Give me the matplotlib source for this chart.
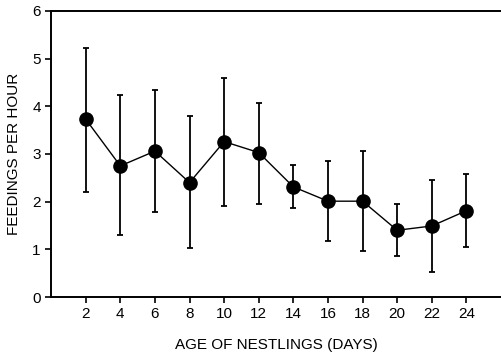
import matplotlib
matplotlib.use("Agg")
from matplotlib import pyplot as plt

plt.rcParams['font.family'] = ['Liberation Sans', 'DejaVu Sans']

# data
age = [2, 4, 6, 8, 10, 12, 14, 16, 18, 20, 22, 24]
feedings = [3.73, 2.75, 3.06, 2.40, 3.26, 3.03, 2.31, 2.01, 2.01, 1.40, 1.49, 1.81]
upper = [5.23, 4.23, 4.34, 3.79, 4.60, 4.07, 2.76, 2.85, 3.07, 1.96, 2.45, 2.57]
lower = [2.21, 1.30, 1.79, 1.02, 1.91, 1.96, 1.86, 1.17, 0.96, 0.86, 0.53, 1.05]

err_low = [f - l for f, l in zip(feedings, lower)]
err_high = [u - f for f, u in zip(feedings, upper)]

fig = plt.figure(figsize=(5.01, 3.54), dpi=100)
ax = fig.add_axes([0.102, 0.161, 0.898, 0.808])

ax.errorbar(age, feedings, yerr=[err_low, err_high], fmt='-o', color='black',
            markersize=9.5, linewidth=1.0, elinewidth=1.3, capsize=2, capthick=1.3)

ax.set_xlim(0, 26)
ax.set_ylim(0, 6)
ax.set_xticks(age)
ax.set_yticks(range(0, 7))
ax.tick_params(direction='out', length=4, width=1.2, labelsize=11, colors='black')
ax.spines['right'].set_visible(False)
for s in ['left', 'bottom', 'top']:
    ax.spines[s].set_linewidth(1.4)

ax.set_xlabel("AGE OF NESTLINGS (DAYS)", fontsize=11, labelpad=12)
ax.set_ylabel("FEEDINGS PER HOUR", fontsize=11, labelpad=8)

plt.savefig("out.png", dpi=100)
plt.close()
